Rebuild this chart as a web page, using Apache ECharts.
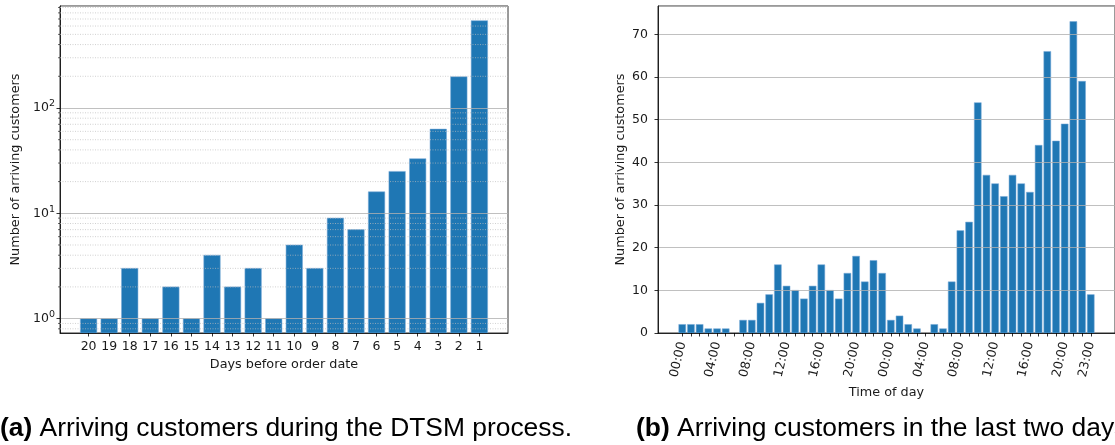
<!DOCTYPE html>
<html><head><meta charset="utf-8">
<script src="https://cdn.jsdelivr.net/npm/echarts@6/dist/echarts.min.js"></script>
<style>html,body{margin:0;padding:0;background:#fff}#c{width:1115px;height:445px}</style>
</head><body><div id="c"></div>
<script>
// ---- data ----
const dayLabels = ['20','19','18','17','16','15','14','13','12','11','10','9','8','7','6','5','4','3','2','1'];
const dayCounts = [1,1,3,1,2,1,4,2,3,1,5,3,9,7,16,25,33,63,198,675];
const logMajorTicks = [1,10,100];
const logMinorTicks = [0.8,0.9,2,3,4,5,6,7,8,9,20,30,40,50,60,70,80,90,200,300,400,500,600,700,800,900];
const hourLabels = ['00:00','01:00','02:00','03:00','04:00','05:00','06:00','07:00','08:00','09:00','10:00','11:00',
  '12:00','13:00','14:00','15:00','16:00','17:00','18:00','19:00','20:00','21:00','22:00','23:00',
  '00:00','01:00','02:00','03:00','04:00','05:00','06:00','07:00','08:00','09:00','10:00','11:00',
  '12:00','13:00','14:00','15:00','16:00','17:00','18:00','19:00','20:00','21:00','22:00','23:00'];
const hourCounts = [2,2,2,1,1,1,0,3,3,7,9,16,11,10,8,11,16,10,8,14,18,12,17,14,
  3,4,2,1,0,2,1,12,24,26,54,37,35,32,37,35,33,44,66,45,49,73,59,9];
const hourLabelIdx = [0,4,8,12,16,20,24,28,32,36,40,44,47];
const captionA = ['(a)', ' Arriving customers during the DTSM process.'];
const captionB = ['(b)', ' Arriving customers in the last two days.'];
const leftXTitle = 'Days before order date';
const rightXTitle = 'Time of day';
const yTitle = 'Number of arriving customers';

// ---- layout / style ----
const BAR = '#1f77b4', TXT = '#1a1a1a', SPINE = '#000', GRIDC = '#b0b0b0';
const L = {xMin:-1.39, xMax:20.39, yMin:0.73, yMax:930};
const R = {xMin:-2.79, xMax:49.79, yMin:0, yMax:76.65};
const FS = 12.5, NFS = 12.8;
const dayIdx = dayLabels.map((d,i)=>i);
const hourIdx = hourLabels.map((h,i)=>i);

function barRenderer(base){
  return function(params, api){
    const x = api.value(0), v = api.value(1);
    if (!(v > base)) return null;
    const a = api.coord([x - 0.4, v]);
    const b = api.coord([x + 0.4, base]);
    return {type:'rect', shape:{x:a[0], y:a[1], width:b[0]-a[0], height:b[1]-a[1]},
      style:{fill:BAR, stroke:'rgba(120,170,215,0.9)', lineWidth:0.6}};
  };
}

const option = {
  animation:false,
  backgroundColor:'#fff',
  textStyle:{fontFamily:'DejaVu Sans'},
  grid:[
    {left:60, top:6, width:448, bottom:112, show:true, borderColor:SPINE, borderWidth:0.8},
    {left:658, top:6, right:-5, bottom:112, show:true, borderColor:SPINE, borderWidth:0.8}
  ],
  xAxis:[
    {gridIndex:0, type:'value', min:L.xMin, max:L.xMax, z:5,
     axisLine:{show:true, onZero:false, lineStyle:{color:SPINE, width:0.8}},
     axisTick:{show:true, length:3.5, customValues:dayIdx, lineStyle:{color:SPINE, width:0.8}},
     axisLabel:{customValues:dayIdx, formatter:v=>dayLabels[Math.round(v)], margin:7, fontSize:FS, color:TXT},
     splitLine:{show:false},
     name:leftXTitle, nameLocation:'middle', nameGap:25, nameTextStyle:{fontSize:NFS, color:TXT}},
    {gridIndex:1, type:'value', min:R.xMin, max:R.xMax, z:5,
     axisLine:{show:true, onZero:false, lineStyle:{color:SPINE, width:0.8}},
     axisTick:{show:true, length:3.5, customValues:hourIdx, lineStyle:{color:SPINE, width:0.8}},
     axisLabel:{customValues:hourLabelIdx, formatter:v=>hourLabels[Math.round(v)], rotate:77, margin:9, fontSize:FS, color:TXT},
     splitLine:{show:false},
     name:rightXTitle, nameLocation:'middle', nameGap:52, nameTextStyle:{fontSize:NFS, color:TXT}}
  ],
  yAxis:[
    {gridIndex:0, type:'log', logBase:10, min:L.yMin, max:L.yMax, z:5,
     axisLine:{show:true, onZero:false, lineStyle:{color:SPINE, width:0.8}},
     axisTick:{show:true, length:3.5, lineStyle:{color:SPINE, width:0.8}},
     axisLabel:{margin:5, color:TXT, showMinLabel:false, showMaxLabel:false,
       formatter:function(v){
         const e = Math.log10(v);
         if (Math.abs(e - Math.round(e)) > 1e-6 || logMajorTicks.indexOf(Math.round(v)) < 0) return '';
         return '{b|10}{s|' + Math.round(e) + '}';
       },
       rich:{b:{fontSize:FS, color:TXT}, s:{fontSize:9.5, color:TXT, padding:[0,0,8,0]}}},
     splitLine:{show:true, lineStyle:{color:GRIDC, width:0.8}},
     name:yTitle, nameLocation:'middle', nameGap:38, nameTextStyle:{fontSize:NFS, color:TXT}},
    {gridIndex:1, type:'value', min:R.yMin, max:R.yMax, interval:10, z:5,
     axisLine:{show:true, onZero:false, lineStyle:{color:SPINE, width:0.8}},
     axisTick:{show:true, length:3.5, lineStyle:{color:SPINE, width:0.8}},
     axisLabel:{margin:10, fontSize:FS, color:TXT, showMaxLabel:false,
       formatter:v=>(Math.abs(v % 10) < 1e-9 ? String(v) : '')},
     splitLine:{show:true, lineStyle:{color:GRIDC, width:0.8}},
     name:yTitle, nameLocation:'middle', nameGap:31, nameTextStyle:{fontSize:NFS, color:TXT}}
  ],
  series:[
    {type:'custom', xAxisIndex:0, yAxisIndex:0, z:2, encode:{x:0, y:1},
     data:dayCounts.map((v,i)=>[i,v]), renderItem:barRenderer(L.yMin)},
    {type:'custom', xAxisIndex:0, yAxisIndex:0, z:6, clip:false, encode:{x:0, y:1},
     data:logMinorTicks.map(v=>[0,v]),
     renderItem:function(params, api){
       const v = api.value(1);
       const p1 = api.coord([L.xMin, v]), p2 = api.coord([L.xMax, v]);
       return {type:'group', children:[
         {type:'line', shape:{x1:p1[0], y1:p1[1], x2:p2[0], y2:p2[1]}, style:{stroke:'#bdbdbd', lineWidth:0.7, lineDash:[1,1.5]}},
         {type:'line', shape:{x1:p1[0]-2, y1:p1[1], x2:p1[0], y2:p1[1]}, style:{stroke:SPINE, lineWidth:0.6}}
       ]};
     }},
    {type:'custom', xAxisIndex:1, yAxisIndex:1, z:2, encode:{x:0, y:1},
     data:hourCounts.map((v,i)=>[i,v]), renderItem:barRenderer(R.yMin)}
  ],
  graphic:[
    {type:'text', left:0, top:416, style:{text:'{b|' + captionA[0] + '}' + captionA[1], font:'26.4px "Liberation Sans", Arial, sans-serif', fill:'#000',
      rich:{b:{fontWeight:'bold', fontSize:26.4, fontFamily:'Liberation Sans'}}}},
    {type:'text', left:636, top:416, style:{text:'{b|' + captionB[0] + '}' + captionB[1], font:'26.4px "Liberation Sans", Arial, sans-serif', fill:'#000',
      rich:{b:{fontWeight:'bold', fontSize:26.4, fontFamily:'Liberation Sans'}}}}
  ]
};
const chart = echarts.init(document.getElementById('c'), null, {renderer:'canvas'});
chart.setOption(option);
</script></body></html>
